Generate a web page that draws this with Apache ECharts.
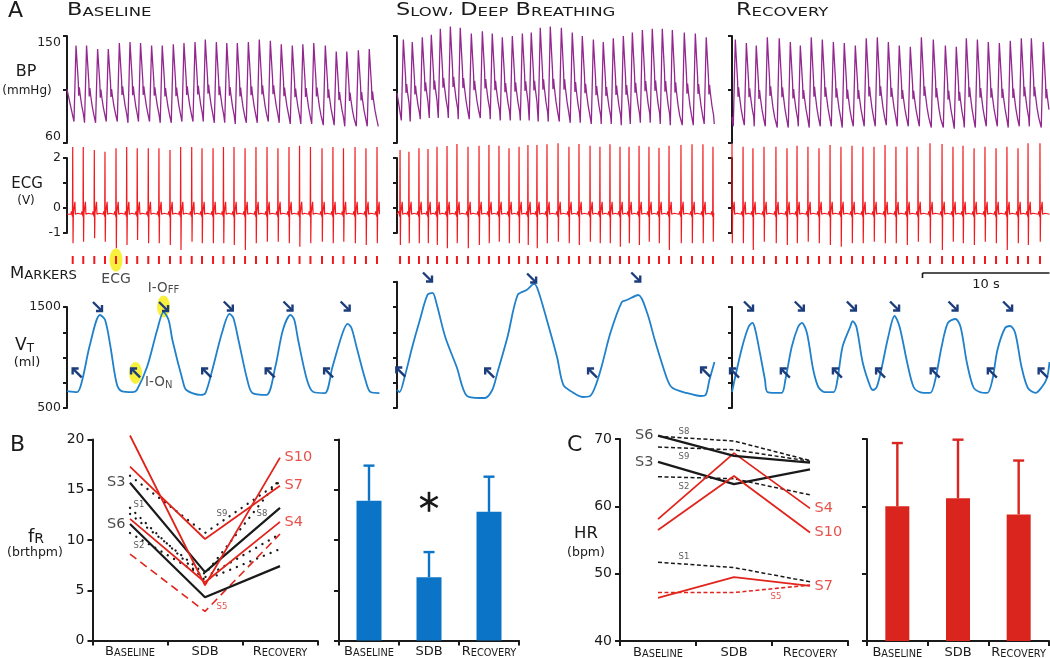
<!DOCTYPE html>
<html><head><meta charset="utf-8">
<script src="https://cdn.jsdelivr.net/npm/echarts@6/dist/echarts.min.js"></script>
<style>html,body{margin:0;padding:0;background:#fff}#c{width:1050px;height:658px}</style>
</head><body><div id="c"></div>
<script>
// ================= DATA =================
// ---- Panel A: time in seconds, per column (Baseline, SDB, Recovery) ----
const colMax = [24.6, 25.0, 25.0];
// ECG R-wave times (s) per column
const rT1 = [0.45,1.28,2.15,2.99,3.86,4.70,5.53,6.40,7.24,8.11,8.95,9.82,10.63,11.50,12.32,13.15,14.02,14.88,15.75,16.61,17.48,18.31,19.17,20.08,20.94,21.77,22.68,23.54,24.41];
const rT2 = [0.24,0.94,1.73,2.44,3.15,3.94,4.72,5.59,6.46,7.24,8.03,8.82,9.61,10.31,11.02,11.81,12.68,13.54,14.33,15.20,15.98,16.77,17.56,18.27,19.06,19.84,20.63,21.42,22.36,23.23,24.09,24.88];
const rT3 = [0.00,0.87,1.65,2.52,3.46,4.33,5.12,5.98,6.85,7.72,8.58,9.45,10.31,11.18,12.05,12.91,13.78,14.65,15.59,16.54,17.40,18.19,19.06,19.92,20.79,21.65,22.52,23.31,24.25];
// ECG R peak and S trough amplitudes (V)
const rA1 = [2.44,2.44,2.32,2.25,2.39,2.44,2.39,2.39,2.39,2.32,2.44,2.44,2.39,2.39,2.44,2.44,2.39,2.44,2.44,2.39,2.44,2.49,2.44,2.39,2.44,2.39,2.44,2.39,2.44];
const sA1 = [-1.41,-1.35,-1.21,-1.35,-1.61,-1.48,-1.28,-1.41,-1.41,-1.48,-1.68,-1.35,-1.41,-1.41,-1.41,-1.48,-1.68,-1.41,-1.35,-1.35,-1.41,-1.55,-1.41,-1.35,-1.41,-1.35,-1.41,-1.48,-1.41];
const rA2 = [2.32,2.25,2.39,2.36,2.45,2.48,2.56,2.45,2.49,2.52,2.49,2.39,2.45,2.52,2.52,2.55,2.59,2.45,2.56,2.49,2.45,2.55,2.45,2.45,2.49,2.45,2.41,2.49,2.52,2.55,2.55,2.45];
const sA2 = [-1.48,-1.41,-1.41,-1.41,-1.48,-1.61,-1.41,-1.61,-1.48,-1.41,-1.35,-1.41,-1.41,-1.48,-1.61,-1.41,-1.35,-1.41,-1.48,-1.35,-1.41,-1.41,-1.55,-1.41,-1.48,-1.35,-1.41,-1.68,-1.41,-1.41,-1.41,-1.35];
const rA3 = [2.59,2.45,2.39,2.45,2.45,2.39,2.49,2.45,2.39,2.52,2.45,2.49,2.45,2.45,2.52,2.45,2.45,2.45,2.59,2.56,2.45,2.49,2.39,2.45,2.39,2.45,2.39,2.59,2.59];
const sA3 = [-1.41,-1.41,-1.68,-1.35,-1.41,-1.48,-1.41,-1.35,-1.41,-1.48,-1.55,-1.41,-1.41,-1.35,-1.41,-1.41,-1.48,-1.35,-1.41,-1.68,-1.35,-1.41,-1.48,-1.35,-1.41,-1.68,-1.41,-1.48,-1.35];
const ecgBase = -0.25;
// ECG beat morphology: [s after R, V above baseline] ('R'/'S' = per-beat amplitude)
const ecgShape = [[-0.14,0],[-0.10,0.12],[-0.06,0],[-0.02,-0.1],[0,'R'],[0.025,'S'],[0.05,0.02],[0.12,0.02],[0.17,0.5],[0.21,0.0],[0.30,-0.07],[0.40,0.04],[0.48,0]];
// BP systolic / diastolic per beat (mmHg)
const sys1 = [142,142,139,139,144,145,144,142,142,143,144,145,147,145,144,144,145,147,146,143,142,143,144,142,137,137,138,139,140];
const dia1 = [78,77,77,78,78,77,78,78,77,77,78,78,78,77,77,76,77,77,78,77,76,76,76,75,75,74,74,74,74];
const sys2 = [147,145,149,151,156,158,157,152,154,152,149,150,152,153,157,158,157,153,150,147,145,148,150,153,155,156,156,155,153,152,149,150];
const dia2 = [79,78,80,81,81,81,80,80,81,80,79,79,79,79,78,78,78,77,77,76,76,76,75,76,77,77,76,75,75,75,76,76];
const sys3 = [147,144,142,149,148,145,142,149,147,145,144,142,148,149,145,142,141,149,147,142,141,148,147,145,144,146,148,148,145];
const dia3 = [74,75,74,74,73,73,74,73,74,74,73,74,74,74,75,74,74,74,73,73,72,73,73,74,74,73,74,74,73];
const bpStart = [105, 102, 82];
// BP beat morphology: [s after R, fraction of pulse pressure]
const bpShape = [[0.10,0],[0.26,1],[0.36,0.73],[0.44,0.52],[0.47,0.34],[0.52,0.45],[0.58,0.36],[0.71,0.21],[0.84,0.10]];
// Tidal volume traces [s, ml]
const vt1 = [[0,668],[0.8,658],[1.2,777],[1.8,1124],[2.6,1421],[3.0,1371],[3.4,1124],[3.9,748],[4.3,668],[5.2,658],[5.5,678],[6.3,906],[7.1,1272],[7.6,1450],[8.0,1371],[8.3,1173],[9.1,777],[9.4,678],[10.5,629],[10.9,648],[11.5,906],[12.2,1243],[12.8,1431],[13.1,1391],[13.5,1173],[14.2,777],[14.6,648],[15.7,629],[16.4,906],[17.0,1272],[17.6,1421],[17.9,1371],[18.2,1173],[18.9,777],[19.4,658],[20.3,648],[20.9,906],[21.7,1243],[22.1,1332],[22.4,1292],[22.8,1104],[23.5,777],[23.9,658],[24.6,648]];
const vt2 = [[0,678],[0.2,658],[0.6,807],[1.2,1104],[1.8,1371],[2.4,1619],[2.8,1639],[3.1,1540],[3.8,1203],[4.7,906],[5.5,619],[6.5,599],[6.9,599],[7.5,678],[7.9,847],[8.7,1203],[9.5,1619],[10.2,1668],[10.8,1728],[11.1,1668],[11.8,1371],[12.6,1005],[13.1,728],[13.8,658],[14.6,609],[15.2,619],[15.6,708],[16.1,906],[16.8,1243],[17.7,1549],[18.1,1569],[19.0,1619],[19.7,1441],[20.3,1173],[21.3,777],[21.7,698],[22.8,649],[23.9,619],[24.3,629],[24.6,777],[25.0,955]];
const vt3 = [[0,658],[0.2,777],[0.8,1104],[1.3,1302],[1.6,1342],[1.8,1292],[2.2,1045],[2.6,777],[2.8,658],[3.9,649],[4.2,777],[4.7,1104],[5.2,1302],[5.5,1342],[5.9,1243],[6.4,876],[6.8,708],[7.3,658],[8.0,658],[8.3,777],[8.7,1104],[9.3,1302],[9.5,1361],[9.8,1302],[10.3,946],[10.9,708],[11.1,678],[11.4,708],[11.8,906],[12.3,1203],[12.8,1411],[13.2,1302],[13.8,946],[14.3,708],[14.8,658],[15.6,649],[16.0,777],[16.5,1104],[17.0,1342],[17.6,1381],[18.0,1302],[18.5,946],[19.0,708],[19.5,658],[20.1,649],[20.5,777],[20.9,1074],[21.5,1292],[21.9,1312],[22.3,1243],[22.8,906],[23.3,698],[23.9,649],[24.4,708],[24.8,797],[25.0,955]];
const vtAxisMax = [1500, 1750, 1500];
// Inspiration-off (↘) and inspiration-on (↖) marker positions [s, ml]
const iOff1 = [[2.4,1505],[7.6,1505],[12.7,1510],[17.4,1510],[21.9,1510]];
const iOn1  = [[0.8,847],[5.4,847],[11.0,847],[16.0,847],[20.6,847]];
const iOff2 = [[2.4,1797],[10.6,1787],[18.8,1797]];
const iOn2  = [[0.3,856],[7.3,846],[15.4,846],[24.3,856]];
const iOff3 = [[1.3,1510],[5.3,1510],[9.4,1510],[12.8,1510],[17.4,1510],[21.7,1510]];
const iOn3  = [[0.2,846],[4.2,846],[8.3,846],[11.7,846],[16.0,846],[20.5,846],[24.5,846]];
const highlightBeat = 4, highlightBreath = 1;
const scaleBar = [15.0, 10]; // start (s), length (s)

// ---- Panels B & C ----
const cats = ['Baseline','SDB','Recovery'];
const subjects = ['S1','S2','S3','S4','S5','S6','S7','S8','S9','S10'];
const fRValues = [[13.2,6.0,9.1],[10.7,6.3,10.6],[15.7,6.8,13.2],[12.1,5.8,11.8],[8.6,2.9,10.6],[11.6,4.3,7.4],[17.3,10.1,15.4],[12.6,6.6,16.1],[16.4,10.7,15.8],[20.4,5.5,18.2]];
const hrValues = [[51.7,50.9,48.8],[64.4,64.1,61.7],[66.6,63.3,65.5],[58.1,67.9,59.7],[47.2,47.2,48.3],[70.5,67.5,66.5],[46.4,49.5,48.2],[70.4,69.7,66.8],[68.8,68.4,66.7],[56.5,64.5,56.1]];
const fRMean = [13.9, 6.3, 12.8];
const fRSD = [3.5, 2.5, 3.5];
const hrMean = [60.0, 61.2, 58.8];
const hrSD = [9.4, 8.7, 8.0];
const fRTicks = [0, 20, 5];
const hrTicks = [40, 70, 10];

// ================= STYLE / LAYOUT =================
const FONT = 'DejaVu Sans';
const BLACK = '#1a1a1a', PURPLE = '#93278f', ECGRED = '#f3191e', VTBLUE = '#1f80cc', NAVY = '#1c3d7c';
const BARBLUE = '#0b74c6', RED = '#e1251c', BARRED = '#d9251d', YELLOW = '#f6ec0a';
const colLeft = [67, 397, 732];
const PX_PER_S = 12.7;

const grids = [], xAxes = [], yAxes = [], series = [];
function addGrid(box, xa, ya) {
  const i = grids.length;
  grids.push(Object.assign({ outerBoundsMode: 'none', containLabel: false, show: false }, box));
  xAxes.push(Object.assign({ gridIndex: i }, xa));
  yAxes.push(Object.assign({ gridIndex: i }, ya));
  return i;
}
const axLine = { show: true, onZero: false, lineStyle: { color: BLACK, width: 2 } };
const axTick = len => ({ show: true, length: len, lineStyle: { color: BLACK, width: 2 } });
function traceYAxis(min, max, interval, labelVals, topAlignMax) {
  const lab = { show: labelVals.length > 0, margin: 6, fontSize: 12.5, color: '#222', fontFamily: FONT,
      formatter: v => labelVals.indexOf(v) >= 0 ? String(v) : '' };
  if (topAlignMax) { lab.verticalAlignMaxLabel = 'top'; lab.verticalAlignMinLabel = 'bottom'; }
  return { type: 'value', min, max, interval, axisLine: axLine, axisTick: axTick(4), splitLine: { show: false }, axisLabel: lab };
}
function buildBP(rT, sys, dia, start, tMax) {
  const pts = [[0, start]];
  for (let i = 0; i < rT.length; i++) {
    const nextTrough = i + 1 < rT.length ? rT[i + 1] + bpShape[0][0] : Infinity;
    for (const [dt, f] of bpShape) {
      const t = rT[i] + dt;
      if (t >= nextTrough - 0.03 || t <= 0 || t > tMax) continue;
      pts.push([t, dia[i] + f * (sys[i] - dia[i])]);
    }
  }
  return pts;
}
function buildECG(rT, rA, sA, tMax) {
  const pts = [[0, ecgBase]];
  rT.forEach((r, i) => {
    for (const [dt, v] of ecgShape) {
      const t = r + dt;
      if (t < 0 || t > tMax) continue;
      pts.push([t, v === 'R' ? rA[i] : v === 'S' ? sA[i] : ecgBase + v]);
    }
  });
  pts.push([tMax, ecgBase]);
  return pts;
}
function arrowSeries(g, data, dir) {
  return { type: 'custom', xAxisIndex: g, yAxisIndex: g, z: 5, silent: true, clip: false, data,
    renderItem: (p, api) => {
      const c = api.coord([api.value(0), api.value(1)]);
      const s = 4.5, h = 6;
      const tip = [c[0] + dir * s, c[1] + dir * s], tail = [c[0] - dir * s, c[1] - dir * s];
      return { type: 'group', children: [
        { type: 'line', shape: { x1: tail[0], y1: tail[1], x2: tip[0], y2: tip[1] }, style: { stroke: NAVY, lineWidth: 2.4 } },
        { type: 'polyline', shape: { points: [[tip[0] - dir * h, tip[1]], tip, [tip[0], tip[1] - dir * h]] }, style: { stroke: NAVY, lineWidth: 2.4, fill: null } }
      ] };
    } };
}

const colData = [
  { rT: rT1, rA: rA1, sA: sA1, sys: sys1, dia: dia1, vt: vt1, off: iOff1, on: iOn1 },
  { rT: rT2, rA: rA2, sA: sA2, sys: sys2, dia: dia2, vt: vt2, off: iOff2, on: iOn2 },
  { rT: rT3, rA: rA3, sA: sA3, sys: sys3, dia: dia3, vt: vt3, off: iOff3, on: iOn3 }
];
const ecgGrid = [], vtGrid = [];
colData.forEach((d, c) => {
  const left = colLeft[c], w = colMax[c] * PX_PER_S;
  const xa = { type: 'value', min: 0, max: colMax[c], show: false };
  const gBP = addGrid({ left, top: 36, width: w, height: 107 }, xa, traceYAxis(60, 150, 45, c === 0 ? [150, 60] : [], true));
  series.push({ type: 'line', xAxisIndex: gBP, yAxisIndex: gBP, data: buildBP(d.rT, d.sys, d.dia, bpStart[c], colMax[c]),
    showSymbol: false, symbol: 'none', clip: false, silent: true, lineStyle: { color: PURPLE, width: 1.3 }, z: 3 });
  const gE = addGrid({ left, top: 158, width: w, height: 75 }, xa, traceYAxis(-1, 2, 1, c === 0 ? [2, 0, -1] : []));
  ecgGrid.push(gE);
  series.push({ type: 'line', xAxisIndex: gE, yAxisIndex: gE, data: buildECG(d.rT, d.rA, d.sA, colMax[c]),
    showSymbol: false, symbol: 'none', clip: false, silent: true, lineStyle: { color: ECGRED, width: 1.2 }, z: 3 });
  // event markers (one per R wave)
  series.push({ type: 'custom', xAxisIndex: gE, yAxisIndex: gE, z: 4, silent: true, clip: false, data: d.rT.map(t => [t]),
    renderItem: (p, api) => {
      const a = api.coord([api.value(0), -1.92]), b = api.coord([api.value(0), -2.24]);
      return { type: 'line', shape: { x1: a[0], y1: a[1], x2: b[0], y2: b[1] }, style: { stroke: ECGRED, lineWidth: 2 } };
    } });
  const vtH = (vtAxisMax[c] - 500) * 0.101;
  const gV = addGrid({ left, top: 408 - vtH, width: w, height: vtH }, xa, traceYAxis(500, vtAxisMax[c], 250, c === 0 ? [1500, 500] : []));
  vtGrid.push(gV);
  series.push({ type: 'line', xAxisIndex: gV, yAxisIndex: gV, data: d.vt, smooth: 0.3,
    showSymbol: false, symbol: 'none', clip: false, silent: true, lineStyle: { color: VTBLUE, width: 1.8 }, z: 3 });
  series.push(arrowSeries(gV, d.off, 1));
  series.push(arrowSeries(gV, d.on, -1));
});
// yellow highlights + annotations (column 1)
const hlLabel = { fontFamily: FONT, color: BLACK };
series.push({ type: 'scatter', xAxisIndex: ecgGrid[0], yAxisIndex: ecgGrid[0], z: 1, silent: true, clip: false, symbol: 'circle', symbolSize: [13, 23],
  itemStyle: { color: YELLOW }, data: [{ value: [rT1[highlightBeat], -2.08],
    label: { show: true, position: 'bottom', distance: 1, formatter: 'ECG', fontSize: 14, ...hlLabel } }] });
const smallCapsRich = (big, small) => ({ a: { fontSize: big, fontFamily: FONT, color: BLACK, verticalAlign: 'bottom' }, b: { fontSize: small, fontFamily: FONT, color: BLACK, verticalAlign: 'bottom' } });
series.push({ type: 'scatter', xAxisIndex: vtGrid[0], yAxisIndex: vtGrid[0], z: 1, silent: true, clip: false, symbol: 'circle', symbolSize: [13, 22],
  itemStyle: { color: YELLOW }, data: [
    { value: iOff1[highlightBreath], label: { show: true, position: 'top', distance: 0, formatter: '{a|I-O}{b|FF}', rich: smallCapsRich(13.5, 10) } },
    { value: iOn1[highlightBreath], label: { show: true, position: 'right', distance: 3, offset: [0, 10], formatter: '{a|I-O}{b|N}', rich: smallCapsRich(13.5, 10) } }
  ] });
// 10 s scale bar
series.push({ type: 'custom', xAxisIndex: ecgGrid[2], yAxisIndex: ecgGrid[2], z: 4, silent: true, clip: false, data: [scaleBar],
  renderItem: (p, api) => {
    const s = api.value(0), L = api.value(1);
    const a = api.coord([s, -2.6]), b = api.coord([s + L, -2.6]);
    return { type: 'group', children: [
      { type: 'line', shape: { x1: a[0], y1: a[1], x2: b[0], y2: b[1] }, style: { stroke: BLACK, lineWidth: 1.6 } },
      { type: 'line', shape: { x1: a[0], y1: a[1], x2: a[0], y2: a[1] + 5 }, style: { stroke: BLACK, lineWidth: 1.6 } },
      { type: 'text', style: { text: L + ' s', x: (a[0] + b[0]) / 2, y: a[1] + 12, align: 'center', verticalAlign: 'middle', fontSize: 13, fontFamily: FONT, fill: BLACK } }
    ] };
  } });

// ---------- Panels B and C ----------
const catAxis = {
  type: 'category', data: cats, boundaryGap: true,
  axisLine: { show: true, onZero: false, lineStyle: { color: BLACK, width: 2 } },
  axisTick: { show: true, alignWithLabel: false, length: 5, lineStyle: { color: BLACK, width: 2 } },
  axisLabel: { interval: 0, margin: 5,
    formatter: v => v === 'SDB' ? '{a|SDB}' : '{a|' + v[0] + '}{b|' + v.slice(1).toUpperCase() + '}',
    rich: smallCapsRich(13, 9.8) },
  splitLine: { show: false }
};
function valAxis(t, showLabels) {
  return { type: 'value', min: t[0], max: t[1], interval: t[2], axisLine: axLine, axisTick: axTick(5), splitLine: { show: false },
    axisLabel: { show: showLabels, margin: 8, fontSize: 14, color: '#1a1a1a', fontFamily: FONT } };
}
const gB = addGrid({ left: 92.5, top: 439.5, width: 225, height: 201 }, catAxis, valAxis(fRTicks, true));
const gBb = addGrid({ left: 339, top: 439.5, width: 180, height: 201 }, catAxis, valAxis(fRTicks, false));
const gC = addGrid({ left: 620, top: 439, width: 228, height: 202 }, catAxis, valAxis(hrTicks, true));
const gCb = addGrid({ left: 867, top: 439, width: 182, height: 202 }, catAxis, valAxis(hrTicks, false));

const redSubj = ['S4', 'S7', 'S10'], solidBlack = ['S3', 'S6'];
function subjStyle(s, panel) {
  if (redSubj.includes(s)) return { color: RED, width: 1.8, type: 'solid' };
  if (s === 'S5') return { color: RED, width: 1.6, type: panel === 'B' ? [8, 5] : [4, 2.5] };
  if (solidBlack.includes(s)) return { color: BLACK, width: 2.2, type: 'solid' };
  return panel === 'B' ? { color: BLACK, width: 2.3, type: [0.1, 7.2], cap: 'round' } : { color: BLACK, width: 1.5, type: [4, 2.5] };
}
subjects.forEach((s, i) => {
  series.push({ type: 'line', name: s, xAxisIndex: gB, yAxisIndex: gB, data: fRValues[i], symbol: 'none', showSymbol: false, silent: true, clip: false,
    lineStyle: subjStyle(s, 'B'), z: solidBlack.includes(s) || redSubj.includes(s) ? 4 : 3 });
  series.push({ type: 'line', name: s, xAxisIndex: gC, yAxisIndex: gC, data: hrValues[i], symbol: 'none', showSymbol: false, silent: true, clip: false,
    lineStyle: subjStyle(s, 'C'), z: solidBlack.includes(s) || redSubj.includes(s) ? 4 : 3 });
});
// subject labels
function bigLabel(s, vals, idx, pos) {
  const i = subjects.indexOf(s);
  return { value: [idx, vals[i][idx]], label: { show: true, formatter: s, position: pos, distance: 4, fontSize: 14.5, fontFamily: FONT,
    color: redSubj.includes(s) ? RED : BLACK } };
}
function smallLabel(s, idx, v, dx) {
  return { value: [idx, v], label: { show: true, formatter: s, position: 'inside', offset: [dx, 0], fontSize: 8.5, fontFamily: FONT,
    color: s === 'S5' ? RED : '#333' } };
}
const labelSeries = (g, data) => ({ type: 'scatter', xAxisIndex: g, yAxisIndex: g, symbolSize: 1, silent: true, z: 6, clip: false,
  itemStyle: { color: 'rgba(0,0,0,0)' }, data });
series.push(labelSeries(gB, [
  bigLabel('S3', fRValues, 0, 'left'), bigLabel('S6', fRValues, 0, 'left'),
  bigLabel('S10', fRValues, 2, 'right'), bigLabel('S7', fRValues, 2, 'right'), bigLabel('S4', fRValues, 2, 'right'),
  smallLabel('S1', 0, 13.5, 9), smallLabel('S2', 0, 9.4, 9), smallLabel('S9', 1, 12.6, 17),
  smallLabel('S8', 2, 12.6, -18), smallLabel('S5', 1, 3.4, 17)
]));
series.push(labelSeries(gC, [
  bigLabel('S6', hrValues, 0, 'left'), bigLabel('S3', hrValues, 0, 'left'),
  bigLabel('S4', hrValues, 2, 'right'), bigLabel('S10', hrValues, 2, 'right'), bigLabel('S7', hrValues, 2, 'right'),
  smallLabel('S8', 0, 71.0, 26), smallLabel('S9', 0, 67.3, 26), smallLabel('S2', 0, 62.9, 26),
  smallLabel('S1', 0, 52.5, 26), smallLabel('S5', 1, 46.5, 42)
]));
// bars + error bars
function errSeries(g, mean, sd, color) {
  return { type: 'custom', xAxisIndex: g, yAxisIndex: g, z: 2, silent: true, clip: false, data: mean.map((m, i) => [i, m, sd[i]]),
    renderItem: (p, api) => {
      const a = api.coord([api.value(0), api.value(1)]), b = api.coord([api.value(0), api.value(1) + api.value(2)]);
      return { type: 'group', children: [
        { type: 'line', shape: { x1: a[0], y1: a[1], x2: b[0], y2: b[1] }, style: { stroke: color, lineWidth: 2.4 } },
        { type: 'line', shape: { x1: b[0] - 5.5, y1: b[1], x2: b[0] + 5.5, y2: b[1] }, style: { stroke: color, lineWidth: 2.4 } }
      ] };
    } };
}
series.push({ type: 'bar', xAxisIndex: gBb, yAxisIndex: gBb, data: fRMean, barWidth: 25, itemStyle: { color: BARBLUE }, silent: true, z: 3 });
series.push(errSeries(gBb, fRMean, fRSD, BARBLUE));
series.push({ type: 'bar', xAxisIndex: gCb, yAxisIndex: gCb, data: hrMean, barWidth: 24, itemStyle: { color: BARRED }, silent: true, z: 3 });
series.push(errSeries(gCb, hrMean, hrSD, BARRED));
// significance asterisk above SDB bar
series.push({ type: 'custom', xAxisIndex: gBb, yAxisIndex: gBb, z: 4, silent: true, clip: false, data: [[1, 13.8]],
  renderItem: (p, api) => {
    const c = api.coord([api.value(0), api.value(1)]);
    const r = 10, kids = [];
    [90, 30, -30].forEach(ang => {
      const rad = ang * Math.PI / 180, dx = Math.cos(rad) * r, dy = Math.sin(rad) * r;
      kids.push({ type: 'line', shape: { x1: c[0] - dx, y1: c[1] - dy, x2: c[0] + dx, y2: c[1] + dy }, style: { stroke: BLACK, lineWidth: 2.6 } });
    });
    return { type: 'group', children: kids };
  } });

// ---------- static text ----------
function txt(x, y, text, size, align, extra) {
  return Object.assign({ type: 'text', x, y, silent: true,
    style: { text, fontSize: size, fontFamily: FONT, fill: BLACK, align: align || 'center', verticalAlign: 'middle' } }, extra || {});
}
function scText(x, y, text, big, small, align, sx) {
  return { type: 'text', x, y, scaleX: sx || 1, silent: true,
    style: { text, align: align || 'left', verticalAlign: 'middle', fontFamily: FONT, fill: BLACK,
      rich: { a: { fontSize: big, fontFamily: FONT, fill: BLACK, color: BLACK, verticalAlign: 'bottom' },
              b: { fontSize: small, fontFamily: FONT, fill: BLACK, color: BLACK, verticalAlign: 'bottom' } } } };
}
const graphics = [
  txt(8, 11, 'A', 22, 'left'),
  scText(67, 11, '{a|B}{b|ASELINE}', 17, 12.5, 'left', 1.32),
  scText(396, 11, '{a|S}{b|LOW},{a| D}{b|EEP}{a| B}{b|REATHING}', 17, 12.5, 'left', 1.32),
  scText(736, 11, '{a|R}{b|ECOVERY}', 17, 12.5, 'left', 1.32),
  txt(26, 72, 'BP', 16), txt(27, 91, '(mmHg)', 12),
  txt(27, 184, 'ECG', 15), txt(26, 201, '(V)', 12),
  scText(10, 274, '{a|M}{b|ARKERS}', 15, 12, 'left', 1.1),
  scText(15, 346, '{a|V}{b|T}', 17, 12, 'left', 1),
  txt(27, 363, '(ml)', 13),
  txt(10, 445, 'B', 22, 'left'),
  scText(28, 537, '{a|f}{b|R}', 18, 14, 'left', 1),
  txt(35, 553, '(brthpm)', 12.5),
  txt(567, 445, 'C', 22, 'left'),
  txt(586, 534, 'HR', 16.5), txt(586, 553, '(bpm)', 12.5)
];

const chart = echarts.init(document.getElementById('c'), null, { renderer: 'canvas' });
chart.setOption({
  animation: false,
  backgroundColor: '#ffffff',
  textStyle: { fontFamily: FONT },
  grid: grids, xAxis: xAxes, yAxis: yAxes, series, graphic: graphics
});
</script></body></html>
